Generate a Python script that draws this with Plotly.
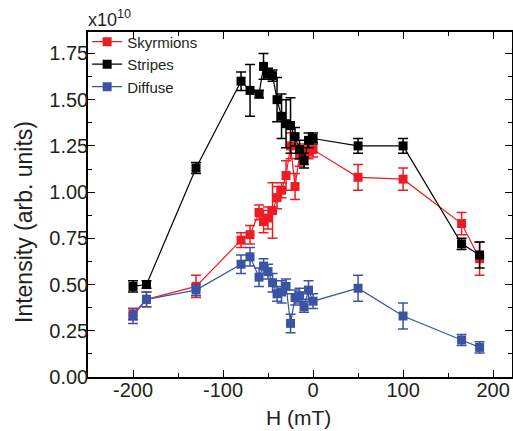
import plotly.graph_objects as go

H = [-200, -185, -130, -80, -70, -60, -55, -50, -45, -40, -35, -30, -25, -20, -15, -10, -5, 0, 50, 100, 165, 185]

skyrmions = [0.34, 0.42, 0.49, 0.74, 0.77, 0.89, 0.84, 0.86, 0.90, 0.97, 1.01, 1.09, 1.25, 1.03, 1.20, 1.20, 1.22, 1.23, 1.08, 1.07, 0.83, 0.64]
skyrmions_err = [0.03, 0.04, 0.06, 0.04, 0.05, 0.04, 0.06, 0.06, 0.15, 0.06, 0.04, 0.08, 0.07, 0.07, 0.06, 0.05, 0.04, 0.04, 0.07, 0.06, 0.06, 0.09]

stripes = [0.49, 0.50, 1.13, 1.60, 1.55, 1.53, 1.68, 1.64, 1.63, 1.50, 1.41, 1.37, 1.36, 1.30, 1.23, 1.17, 1.28, 1.29, 1.25, 1.25, 0.72, 0.66]
stripes_err = [0.03, 0.02, 0.03, 0.05, 0.14, 0.02, 0.07, 0.03, 0.03, 0.12, 0.12, 0.13, 0.15, 0.05, 0.05, 0.04, 0.04, 0.03, 0.04, 0.04, 0.03, 0.07]

diffuse = [0.33, 0.42, 0.47, 0.61, 0.65, 0.54, 0.60, 0.57, 0.51, 0.45, 0.46, 0.49, 0.29, 0.43, 0.44, 0.38, 0.47, 0.41, 0.48, 0.33, 0.20, 0.16]
diffuse_err = [0.04, 0.04, 0.03, 0.05, 0.05, 0.05, 0.04, 0.04, 0.05, 0.04, 0.06, 0.04, 0.05, 0.04, 0.04, 0.03, 0.05, 0.04, 0.07, 0.07, 0.03, 0.03]

x_ticks = [-200, -100, 0, 100, 200]
x_ticktext = ["-200", "-100", "0", "100", "200"]
y_ticks = [0, 0.25, 0.5, 0.75, 1.0, 1.25, 1.5, 1.75]
y_ticktext = ["0.00", "0.25", "0.50", "0.75", "1.00", "1.25", "1.50", "1.75"]

series = [
    ("Skyrmions", skyrmions, skyrmions_err, "#ED1C24"),
    ("Stripes", stripes, stripes_err, "#000000"),
    ("Diffuse", diffuse, diffuse_err, "#3A54A4"),
]

FONT = "Liberation Sans, Arial, Helvetica, sans-serif"
TXT = "#231F20"

fig = go.Figure()
for name, vals, errs, col in series:
    fig.add_trace(go.Scatter(
        x=H, y=vals, name=name, mode="lines+markers",
        line=dict(color=col, width=1.2),
        marker=dict(symbol="square", size=9, color=col),
        error_y=dict(type="data", array=errs, visible=True, color=col, thickness=1.5, width=5),
    ))

axis_common = dict(
    showline=True, linecolor="black", linewidth=1.5, mirror="allticks",
    ticks="inside", ticklen=7, tickwidth=1.2, tickcolor="black",
    showgrid=False, zeroline=False, automargin=False,
    tickfont=dict(family=FONT, size=20, color=TXT),
)

fig.update_xaxes(
    range=[-250, 221], tickmode="array", tickvals=x_ticks, ticktext=x_ticktext,
    minor=dict(tickmode="array", tickvals=[-250, -150, -50, 50, 150], ticks="inside", ticklen=4, tickcolor="black", tickwidth=1.2),
    ticklabelstandoff=-6,
    **axis_common,
)
fig.update_yaxes(
    range=[0, 1.866], tickmode="array", tickvals=y_ticks, ticktext=y_ticktext,
    minor=dict(tickmode="array", tickvals=[0.125, 0.375, 0.625, 0.875, 1.125, 1.375, 1.625, 1.875], ticks="inside", ticklen=4, tickcolor="black", tickwidth=1.2),
    ticklabelstandoff=-6,
    **axis_common,
)

PL, PT, PW, PH = 88, 32, 424, 345

def px(xp):
    return (xp - PL) / PW

def py(yp):
    return (PT + PH - yp) / PH

fig.add_annotation(
    text="x10<sup>10</sup>", xref="paper", yref="paper", x=px(86), y=py(18),
    xanchor="left", yanchor="middle", showarrow=False,
    font=dict(family=FONT, size=18, color=TXT),
)
fig.add_annotation(
    text="Intensity (arb. units)", xref="paper", yref="paper", x=px(24), y=py(222),
    xanchor="center", yanchor="middle", textangle=-90, showarrow=False,
    font=dict(family=FONT, size=23, color=TXT),
)
fig.add_annotation(
    text="H (mT)", xref="paper", yref="paper", x=px(298), y=py(417),
    xanchor="center", yanchor="middle", showarrow=False,
    font=dict(family=FONT, size=21, color=TXT),
)

fig.update_layout(
    width=513, height=431,
    margin=dict(l=PL, r=513 - PL - PW, t=PT, b=431 - PT - PH),
    paper_bgcolor="white", plot_bgcolor="white",
    showlegend=True,
    legend=dict(x=-0.002, y=1.019, xanchor="left", yanchor="top", bgcolor="rgba(0,0,0,0)",
                font=dict(family=FONT, size=15, color=TXT), tracegroupgap=0,
                itemwidth=30),
)

fig.write_html(
    "out.html",
    config={"displayModeBar": False},
    post_script="document.body.style.margin='0';document.body.style.overflow='hidden';",
)
